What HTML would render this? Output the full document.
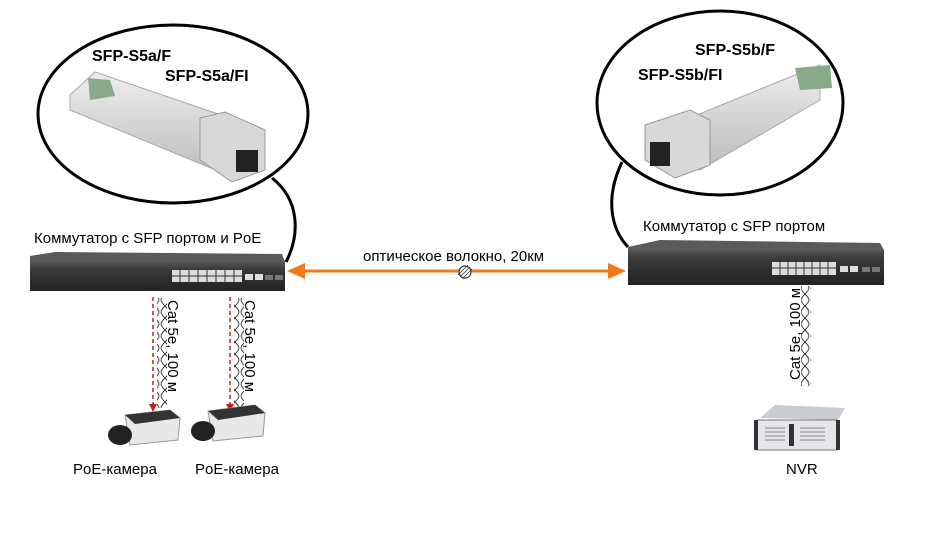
<!DOCTYPE html>
<html><head><meta charset="utf-8"><style>
html,body{margin:0;padding:0;background:#fff;width:944px;height:537px;overflow:hidden}
svg{display:block}
text{font-family:"Liberation Sans",sans-serif}
</style></head><body>
<svg width="944" height="537" viewBox="0 0 944 537">
<defs>
<linearGradient id="sfp" x1="0" y1="0" x2="0" y2="1"><stop offset="0" stop-color="#eee"/><stop offset="1" stop-color="#bbb"/></linearGradient>
<linearGradient id="sw" x1="0" y1="0" x2="0" y2="1"><stop offset="0" stop-color="#555"/><stop offset="0.25" stop-color="#3a3a3a"/><stop offset="1" stop-color="#222"/></linearGradient>
<pattern id="tw" width="10" height="12" patternUnits="userSpaceOnUse"><path d="M1 0 C1 4 9 8 9 12 M9 0 C9 4 1 8 1 12" fill="none" stroke="#333" stroke-width="0.9"/></pattern>
</defs>
<ellipse cx="173" cy="114" rx="135" ry="89" fill="none" stroke="#000" stroke-width="3"/>
<ellipse cx="720" cy="103" rx="123" ry="92" fill="none" stroke="#000" stroke-width="3"/>
<path d="M272 178 C300 200 300 235 286 262" fill="none" stroke="#000" stroke-width="3"/>
<path d="M622 162 C604 200 612 230 628 247" fill="none" stroke="#000" stroke-width="3"/>
<!-- left SFP -->
<polygon points="70,95 95,72 265,130 240,155 240,180 70,110" fill="url(#sfp)" stroke="#aaa"/>
<polygon points="200,118 225,112 265,130 265,170 232,182 200,160" fill="#d8d8d8" stroke="#999"/>
<rect x="236" y="150" width="22" height="22" fill="#222"/>
<polygon points="88,78 110,80 115,96 90,100" fill="#8a8"/>
<!-- right SFP -->
<polygon points="820,65 795,75 660,130 645,150 700,170 820,100" fill="url(#sfp)" stroke="#aaa"/>
<polygon points="645,125 690,110 710,120 710,165 675,178 645,160" fill="#d8d8d8" stroke="#999"/>
<rect x="650" y="142" width="20" height="24" fill="#222"/>
<polygon points="795,68 830,65 832,88 800,90" fill="#8a8"/>
<text x="92" y="61" font-size="16" font-weight="bold">SFP-S5a/F</text>
<text x="165" y="81" font-size="16" font-weight="bold">SFP-S5a/FI</text>
<text x="695" y="55" font-size="16" font-weight="bold">SFP-S5b/F</text>
<text x="638" y="80" font-size="16" font-weight="bold">SFP-S5b/FI</text>
<text x="34" y="243" font-size="15">Коммутатор с SFP портом и PoE</text>
<text x="643" y="231" font-size="15">Коммутатор с SFP портом</text>
<text x="363" y="261" font-size="15">оптическое волокно, 20км</text>
<!-- left switch -->
<polygon points="30,256 55,252 282,254 285,262 30,264" fill="#5a5a5a"/>
<rect x="30" y="262" width="255" height="29" fill="url(#sw)"/>
<g fill="#ddd"><rect x="172" y="270" width="70" height="12"/><rect x="245" y="274" width="8" height="6"/><rect x="255" y="274" width="8" height="6"/></g>
<g stroke="#333" stroke-width="1"><path d="M180 270v12M189 270v12M198 270v12M207 270v12M216 270v12M225 270v12M234 270v12M172 276h70"/></g>
<rect x="265" y="275" width="8" height="5" fill="#777"/><rect x="275" y="275" width="8" height="5" fill="#777"/>
<!-- right switch -->
<polygon points="628,247 660,240 880,243 884,250 628,252" fill="#5a5a5a"/>
<rect x="628" y="250" width="256" height="35" fill="url(#sw)"/>
<g fill="#ddd"><rect x="772" y="262" width="64" height="13"/><rect x="840" y="266" width="8" height="6"/><rect x="850" y="266" width="8" height="6"/></g>
<g stroke="#333" stroke-width="1"><path d="M780 262v13M788 262v13M796 262v13M804 262v13M812 262v13M820 262v13M828 262v13M772 268h64"/></g>
<rect x="862" y="267" width="8" height="5" fill="#777"/><rect x="872" y="267" width="8" height="5" fill="#777"/>
<!-- orange arrow -->
<line x1="300" y1="271" x2="612" y2="271" stroke="#f07a1a" stroke-width="3"/>
<polygon points="287,271 305,263 305,279" fill="#f07a1a"/>
<polygon points="626,271 608,263 608,279" fill="#f07a1a"/>
<circle cx="465" cy="272" r="6" fill="#fff" stroke="#333" stroke-width="1.2"/>
<path d="M460 277 L470 267 M462 279 L472 269 M458 275 L468 265" stroke="#333" stroke-width="0.8"/>
<!-- cables left -->
<line x1="153" y1="297" x2="153" y2="405" stroke="#c0201c" stroke-width="1.5" stroke-dasharray="4,3"/>
<polygon points="149,404 157,404 153,412" fill="#c0201c"/>
<rect x="157" y="298" width="10" height="110" fill="url(#tw)"/>
<line x1="230" y1="297" x2="230" y2="405" stroke="#c0201c" stroke-width="1.5" stroke-dasharray="4,3"/>
<polygon points="226,404 234,404 230,412" fill="#c0201c"/>
<rect x="234" y="298" width="10" height="110" fill="url(#tw)"/>
<text transform="translate(168,300) rotate(90)" font-size="15">Cat 5e, 100 м</text>
<text transform="translate(245,300) rotate(90)" font-size="15">Cat 5e, 100 м</text>
<rect x="801" y="286" width="10" height="100" fill="url(#tw)"/>
<text transform="translate(800,380) rotate(-90)" font-size="15">Cat 5e, 100 м</text>
<!-- cameras -->
<polygon points="125,415 170,410 180,418 178,440 130,445" fill="#e8e8e8" stroke="#999"/>
<polygon points="125,415 170,410 180,418 135,424" fill="#333"/>
<ellipse cx="120" cy="435" rx="12" ry="10" fill="#222"/>
<polygon points="208,411 255,405 265,413 263,436 213,441" fill="#e8e8e8" stroke="#999"/>
<polygon points="208,411 255,405 265,413 218,420" fill="#333"/>
<ellipse cx="203" cy="431" rx="12" ry="10" fill="#222"/>
<text x="73" y="474" font-size="15">PoE-камера</text>
<text x="195" y="474" font-size="15">PoE-камера</text>
<!-- NVR -->
<polygon points="760,418 775,405 845,408 838,420" fill="#c8cdd4"/>
<rect x="757" y="420" width="80" height="30" fill="#e4e6ea" stroke="#777"/>
<rect x="754" y="420" width="4" height="30" fill="#333"/><rect x="836" y="420" width="4" height="30" fill="#333"/>
<g stroke="#888"><path d="M765 428h20M765 432h20M765 436h20M765 440h20M800 428h25M800 432h25M800 436h25M800 440h25"/></g>
<rect x="789" y="424" width="5" height="22" fill="#333"/>
<text x="786" y="474" font-size="15">NVR</text>
</svg>
</body></html>
